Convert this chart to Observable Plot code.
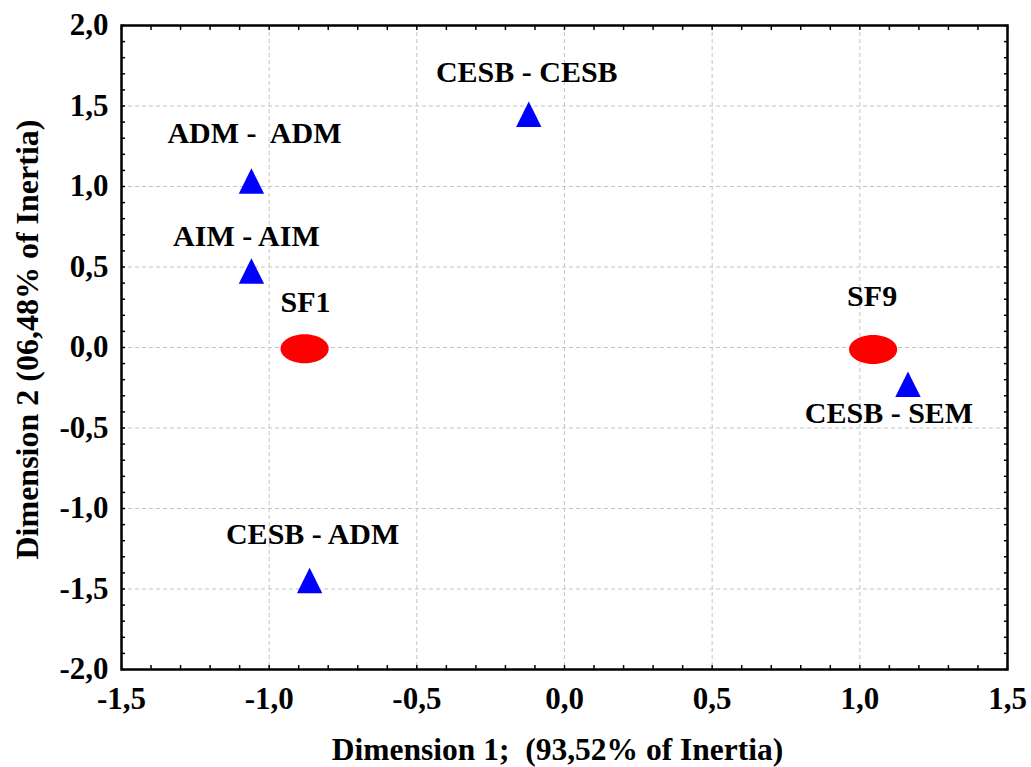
<!DOCTYPE html>
<html>
<head>
<meta charset="utf-8">
<script src="https://cdn.jsdelivr.net/npm/d3@7"></script>
<script src="https://cdn.jsdelivr.net/npm/@observablehq/plot@0.6"></script>
<style>
  html, body { margin: 0; padding: 0; background: #fff; }
  #chart svg { display: block; }
</style>
</head>
<body>
<div id="chart"></div>
<script>
// ---- data ----
const labels = ["CESB - CESB", "ADM -  ADM", "AIM - AIM", "SF1", "SF9", "CESB - SEM", "CESB - ADM"];
const dim1 = [-0.121, -1.060, -1.060, -0.880, 1.045, 1.163, -0.863];
const dim2 = [1.449, 1.034, 0.475, -0.008, -0.012, -0.228, -1.447];
const kind = ["variable", "variable", "variable", "case", "case", "variable", "variable"];
const xTicks = [-1.5, -1.0, -0.5, 0.0, 0.5, 1.0, 1.5];
const yTicks = [-2.0, -1.5, -1.0, -0.5, 0.0, 0.5, 1.0, 1.5, 2.0];
const xTitle = "Dimension 1;  (93,52% of Inertia)";
const yTitle = "Dimension 2 (06,48% of Inertia)";

// ---- table built from arrays ----
const points = labels.map((label, i) => ({label, x: dim1[i], y: dim2[i], kind: kind[i]}));

// label placement (pixel offsets, styling only)
const labelOffset = {
  "CESB - CESB": [-2, -42],
  "ADM -  ADM": [3, -48],
  "AIM - AIM": [-5, -35],
  "SF1": [1, -46],
  "SF9": [-1, -53],
  "CESB - SEM": [-19, 29],
  "CESB - ADM": [3, -46]
};

const fmt = v => v.toFixed(1).replace(".", ",").replace("−", "-");
const minorX = d3.range(-15, 16).map(i => i / 10);
const minorY = d3.range(-20, 21).map(i => i / 10);

const triangle = {
  draw(ctx, size) {
    const r = Math.sqrt(size / Math.PI);
    ctx.moveTo(0, -r);
    ctx.lineTo(r, r);
    ctx.lineTo(-r, r);
    ctx.closePath();
  }
};
const ellipse = {
  draw(ctx, size) {
    const ry = Math.sqrt(size / Math.PI);
    const rx = ry * 1.66;
    const k = 0.5523;
    ctx.moveTo(rx, 0);
    ctx.bezierCurveTo(rx, k * ry, k * rx, ry, 0, ry);
    ctx.bezierCurveTo(-k * rx, ry, -rx, k * ry, -rx, 0);
    ctx.bezierCurveTo(-rx, -k * ry, -k * rx, -ry, 0, -ry);
    ctx.bezierCurveTo(k * rx, -ry, rx, -k * ry, rx, 0);
    ctx.closePath();
  }
};

const font = "'Liberation Serif', 'Times New Roman', Times, serif";

const labelMarks = points.map(p => Plot.text([p], {
  x: "x", y: "y", text: "label",
  dx: labelOffset[p.label][0], dy: labelOffset[p.label][1],
  fontSize: 30, fontWeight: "bold", fill: "black",
  textAnchor: "middle", lineAnchor: "middle"
}));

const chart = Plot.plot({
  width: 1031,
  height: 767,
  marginLeft: 121,
  marginRight: 24,
  marginTop: 25,
  marginBottom: 98,
  style: {background: "#fff", fontFamily: font, color: "black"},
  x: {domain: [-1.5, 1.5]},
  y: {domain: [-2, 2]},
  marks: [
    Plot.gridX(xTicks.slice(1, -1), {stroke: "#c4c4c4", strokeOpacity: 1, strokeDasharray: "4,3", strokeWidth: 1}),
    Plot.gridY(yTicks.slice(1, -1), {stroke: "#c4c4c4", strokeOpacity: 1, strokeDasharray: "4,3", strokeWidth: 1}),
    // inward minor ticks on all sides
    Plot.axisX(minorX, {anchor: "bottom", tickSize: -4, text: null, label: null, strokeWidth: 1.5}),
    Plot.axisX(minorX, {anchor: "top", tickSize: -4, text: null, label: null, strokeWidth: 1.5}),
    Plot.axisY(minorY, {anchor: "left", tickSize: -4, text: null, label: null, strokeWidth: 1.5}),
    Plot.axisY(minorY, {anchor: "right", tickSize: -4, text: null, label: null, strokeWidth: 1.5}),
    // tick labels
    Plot.axisX(xTicks, {anchor: "bottom", tickSize: 0, tickPadding: 17, tickFormat: fmt, fontSize: 31, fontWeight: "bold", label: null}),
    Plot.axisY(yTicks, {anchor: "left", tickSize: 0, tickPadding: 13, tickFormat: fmt, fontSize: 31, fontWeight: "bold", label: null}),
    Plot.frame({stroke: "black", strokeWidth: 2.5}),
    Plot.dot(points.filter(d => d.kind === "case"), {x: "x", y: "y", symbol: ellipse, r: 14.5, fill: "#ff0000", stroke: "none"}),
    Plot.dot(points.filter(d => d.kind === "variable"), {x: "x", y: "y", symbol: triangle, r: 12.7, fill: "#0000ff", stroke: "none"}),
    ...labelMarks,
    Plot.text([xTitle], {frameAnchor: "bottom", text: d => d, dx: -7, dy: 80, fontSize: 31.5, fontWeight: "bold", textAnchor: "middle", lineAnchor: "middle"}),
    Plot.text([yTitle], {frameAnchor: "left", text: d => d, rotate: -90, dx: -94, dy: -8, fontSize: 32, fontWeight: "bold", textAnchor: "middle", lineAnchor: "middle"})
  ]
});
document.getElementById("chart").appendChild(chart);
</script>
</body>
</html>
